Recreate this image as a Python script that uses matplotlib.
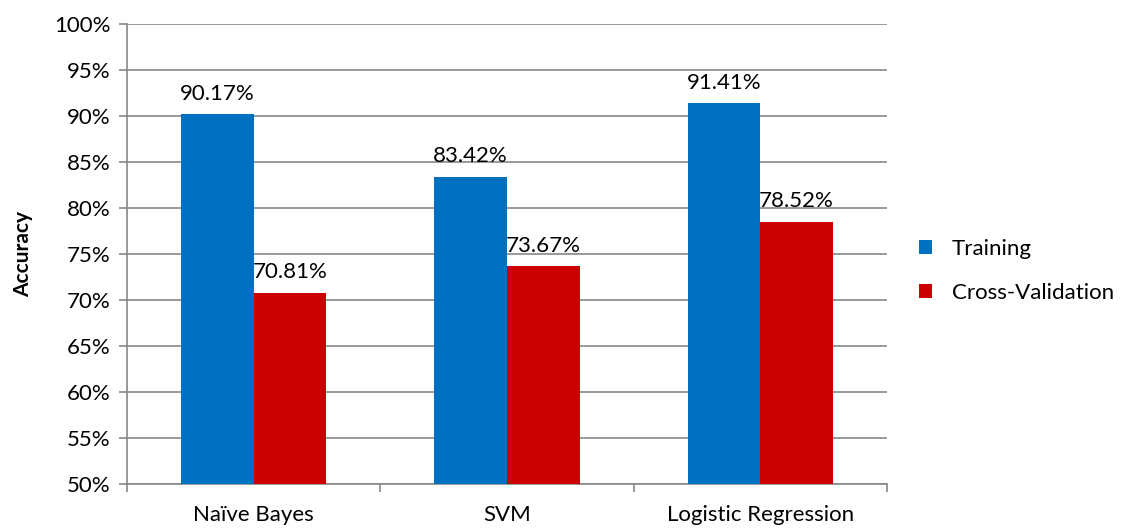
import numpy as np
import matplotlib.pyplot as plt

plt.rcParams['font.family'] = ['Lato', 'DejaVu Sans']

models = ["Naïve Bayes", "SVM", "Logistic Regression"]
training = [90.17, 83.42, 91.41]
cross_val = [70.81, 73.67, 78.52]
yticks = list(range(50, 101, 5))

fig = plt.figure(figsize=(11.3, 5.31), dpi=100)
ax = fig.add_axes([127/1130, 47/531, 760/1130, 460/531])

x = np.arange(len(models))
w = 0.287
b1 = ax.bar(x - w/2, training, w, color="#0070C0", label="Training", zorder=3)
b2 = ax.bar(x + w/2, cross_val, w, color="#CC0000", label="Cross-Validation", zorder=3)

for bars, vals in ((b1, training), (b2, cross_val)):
    for r, v in zip(bars, vals):
        ax.text(r.get_x() + r.get_width()/2, v + 1.1, f"{v:.2f}%",
                ha="center", va="bottom", fontsize=16)

ax.set_ylim(50, 100)
ax.set_xlim(-0.5, 2.5)
ax.set_yticks(yticks)
ax.set_yticklabels([f"{t}%" for t in yticks], fontsize=16)
ax.set_xticks(x)
ax.set_xticklabels(models, fontsize=16)
ax.set_xticks([-0.5, 0.5, 1.5, 2.5], minor=True)
ax.tick_params(axis="x", which="major", length=0, pad=15)
ax.tick_params(axis="x", which="minor", length=6, color="#888888", width=1.2)
ax.tick_params(axis="y", length=6, color="#888888", width=1.2, pad=6)
ax.yaxis.grid(True, color="#888888", linewidth=1.2, zorder=0)
for s in ["top", "right"]:
    ax.spines[s].set_visible(False)
for s in ["left", "bottom"]:
    ax.spines[s].set_color("#888888")
    ax.spines[s].set_linewidth(1.2)
ax.set_ylabel("Accuracy", fontsize=15, fontweight="bold", labelpad=15)

ax.legend(loc="center left", bbox_to_anchor=(1.03, 0.463), frameon=False,
          borderaxespad=0, fontsize=16, handlelength=0.6, handleheight=0.6,
          labelspacing=1.1, handletextpad=0.9)

fig.savefig("out.png", dpi=100)
